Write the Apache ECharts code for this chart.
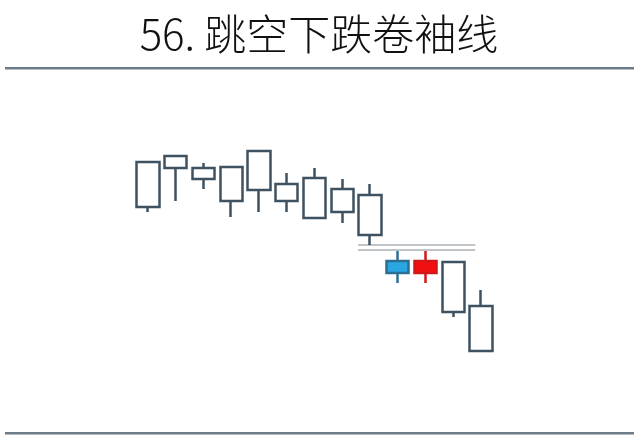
<!DOCTYPE html>
<html>
<head>
<meta charset="utf-8">
<title>56. 跳空下跌卷袖线</title>
<script src="https://cdn.jsdelivr.net/npm/echarts@6/dist/echarts.min.js"></script>
<style>
  html, body { margin: 0; padding: 0; background: #fff; }
  #chart { width: 640px; height: 439px; }
</style>
</head>
<body>
<div id="chart"></div>
<script>
// 13 根K线 (数值为相对价格，读图估算)
const days = ['1', '2', '3', '4', '5', '6', '7', '8', '9', '10', '11', '12', '13']
// [open, close, low, high]
const opens = [198, 204, 192, 193, 209, 176, 182, 171, 165, 99, 87, 98, 54]
const closes = [153, 192, 181, 159, 170, 159, 142, 148, 125, 87, 99, 48, 9]
const lows = [148, 159, 171, 143, 148, 148, 142, 137, 115, 77, 77, 43, 9]
const highs = [198, 204, 197, 193, 209, 187, 192, 181, 176, 109, 109, 98, 70]
// 跳空缺口的两条水平线
const gapLevels = [115, 110]
const gapFrom = 8.07
const gapTo = 12.29

const outline = '#3f5261'
const chart = echarts.init(document.getElementById('chart'))

const kData = days.map((d, i) => {
  const item = { value: [opens[i], closes[i], lows[i], highs[i]] }
  if (i === 9) {
    // 蓝色实体
    item.itemStyle = { color: '#2aa6e0', color0: '#2aa6e0', borderColor: '#2d6f92', borderColor0: '#2d6f92' }
  } else if (i === 10) {
    // 红色实体
    item.itemStyle = { color: '#f01010', color0: '#f01010', borderColor: '#d01818', borderColor0: '#d01818' }
  }
  return item
})

const gapSeries = gapLevels.map(v => ({
  type: 'line',
  xAxisIndex: 1,
  data: [[gapFrom, v], [gapTo, v]],
  symbol: 'none',
  silent: true,
  lineStyle: { color: '#a9b0b5', width: 1.5 },
  z: 1
}))

chart.setOption({
  backgroundColor: '#fff',
  animation: false,
  title: {
    text: '56. 跳空下跌卷袖线',
    left: 314,
    top: 8,
    textAlign: 'center',
    textStyle: {
      fontFamily: 'Noto Sans CJK SC',
      fontWeight: 300,
      fontSize: 42,
      color: '#111'
    }
  },
  graphic: [
    { type: 'rect', shape: { x: 5, y: 67, width: 629, height: 2.5 }, style: { fill: '#6d7c88' } },
    { type: 'rect', shape: { x: 5, y: 432, width: 629, height: 2.5 }, style: { fill: '#6d7c88' } }
  ],
  grid: { left: 134, right: 145, top: 140, bottom: 79 },
  xAxis: [
    { type: 'category', data: days, show: false, boundaryGap: true },
    { type: 'value', min: 0, max: 13, show: false }
  ],
  yAxis: { type: 'value', min: 0, max: 220, show: false, splitLine: { show: false } },
  series: [
    {
      type: 'candlestick',
      data: kData,
      barWidth: '82%',
      z: 2,
      itemStyle: {
        color: '#fff',
        color0: '#fff',
        borderColor: outline,
        borderColor0: outline,
        borderWidth: 2.5
      }
    },
    ...gapSeries
  ]
})
</script>
</body>
</html>
